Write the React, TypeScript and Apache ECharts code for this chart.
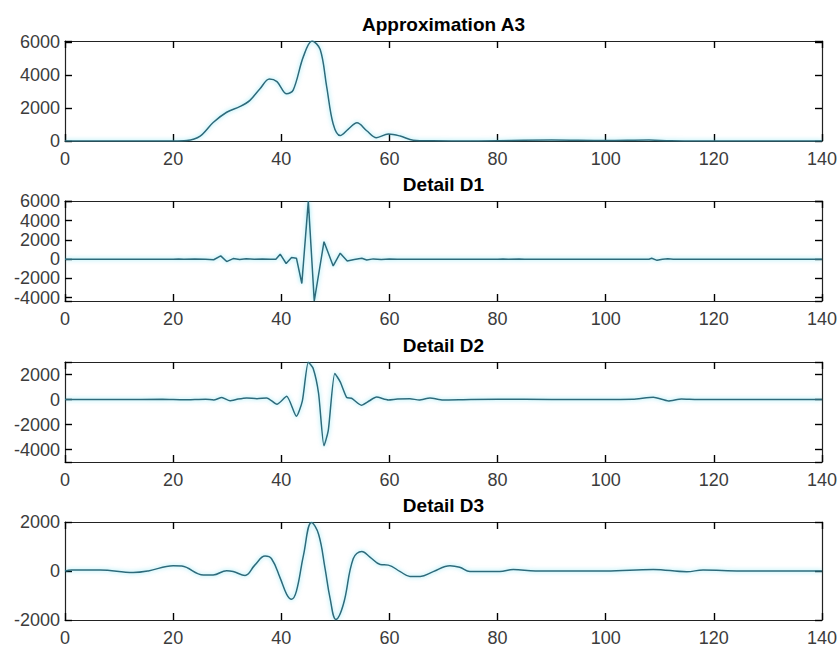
import React, { useEffect, useRef } from 'react';
import * as echarts from 'echarts';

// panel titles and y limits (tight, like the MATLAB wavelet plots)
const titles = ['Approximation A3', 'Detail D1', 'Detail D2', 'Detail D3'];
const yMins = [0, -4350, -5000, -2000];
const yMaxs = [6050, 6050, 3000, 2000];
const xMin = 0;
const xMax = 140;
const xStep = 20;
const yStep = 2000;

// [sample, value]
const a3Data = [
  [0, 0], [10, 0], [20, 0], [22.5, 30], [25, 300], [27.4, 1120], [29.9, 1740], [32.4, 2090],
  [34.2, 2460], [36.1, 3180], [37.8, 3750], [39.2, 3590], [41, 2860], [42.2, 3080], [44.1, 5120],
  [45.7, 6050], [47.2, 5530], [48.4, 3280], [49.6, 1030], [50.9, 330], [52.4, 720], [54, 1100],
  [55.8, 620], [57.6, 200], [59.8, 420], [62, 300], [64.4, 50], [68, 10], [75, 0], [90, 60],
  [100, 30], [108, 60], [112, 10], [118, 0], [125, 0], [140, 0],
];

const d1Data = [
  [0, 0], [20, 0], [21, 20], [22, -10], [24, 20], [26, 0], [27.5, -60], [28.8, 340], [29.9, -250],
  [31.1, 60], [32.3, -30], [33.5, 40], [35, -20], [36.5, 20], [38, 0], [39, 0], [39.8, 520],
  [40.9, -450], [41.9, 170], [42.8, 100], [43.8, -2530], [45, 6040], [46.1, -4350], [47.9, 1820],
  [49.6, -700], [50.9, 620], [52.2, -180], [53.5, -40], [54.9, 100], [55.8, -80], [57, 30],
  [58.5, -30], [60, 20], [61.5, -20], [63, 0], [80, 0], [81, 15], [82, -15], [84, 20], [85, 0],
  [108, 0], [108.5, 100], [109.5, -120], [110.5, 0], [111.5, 40], [112.5, 0], [140, 0],
];

const d2Data = [
  [0, 0], [10, 0], [18, 20], [22, -20], [26, 30], [27.5, -40], [29, 160], [30.5, -100], [32, 40],
  [33.6, 130], [35.5, 60], [37.3, 130], [39.2, -380], [41, 260], [42.8, -1340], [43.9, -110],
  [45, 2980], [45.9, 2480], [46.9, 480], [47.9, -3700], [48.7, -2450], [49.9, 2080], [50.9, 1410],
  [52.1, 160], [53, 100], [54.8, -460], [56.3, -100], [57.6, 200], [59.8, -30], [61.5, 40],
  [63.8, 60], [65.5, -40], [67.5, 130], [69.9, -40], [75, 0], [85, 20], [95, 0], [105, 20],
  [108.8, 180], [111.6, -110], [114, 40], [117, 0], [140, 0],
];

const d3Data = [
  [0, 0], [1.2, 40], [6.5, 40], [12.6, -65], [15.4, 0], [20, 215], [21.6, 200], [25.6, -160],
  [27.4, -160], [29.9, 15], [31.1, -20], [33.3, -180], [35.1, 240], [37, 610], [38.2, 500],
  [39.8, -290], [41, -950], [41.9, -1150], [42.8, -820], [44.1, 640], [45.6, 1980], [46.9, 1500],
  [48.1, 100], [49, -1085], [50.1, -1980], [51.5, -1350], [53.3, 500], [54.9, 800], [56.4, 570],
  [58.3, 265], [59.8, 240], [62, -25], [63.8, -220], [65.7, -220], [68.1, -25], [71.2, 215],
  [73, 150], [74.9, -25], [80.4, -25], [82.9, 65], [87, 0], [100, 0], [108.8, 65], [115, -30],
  [118, 40], [125, 0], [140, 0],
];

const seriesData = [a3Data, d1Data, d2Data, d3Data];
const smoothing = [0.35, 0, 0.2, 0.4];

const FONT = '"Liberation Sans", Arial, Helvetica, sans-serif';
const PLOT_LEFT = 65;
const PLOT_RIGHT = 18;
const PLOT_TOPS = [41, 201, 362, 522];
const PLOT_HEIGHT = 100;
const TICK_LEN = 7;

const App: React.FC = () => {
  const chartRef = useRef<HTMLDivElement | null>(null);

  useEffect(() => {
    const chart = echarts.init(chartRef.current!, undefined, { renderer: 'svg' });

    const grids = PLOT_TOPS.map((top) => ({ left: PLOT_LEFT, right: PLOT_RIGHT, top, height: PLOT_HEIGHT }));

    const xAxisFor = (i: number, position: 'bottom' | 'top') => ({
      type: 'value',
      gridIndex: i,
      min: xMin,
      max: xMax,
      interval: xStep,
      position,
      axisLine: { show: true, onZero: false, lineStyle: { color: '#222', width: 1.2 } },
      axisTick: { show: true, inside: true, length: TICK_LEN, lineStyle: { color: '#000', width: 1.4 } },
      splitLine: { show: false },
      axisLabel:
        position === 'bottom'
          ? { show: true, color: '#3c3c3c', fontSize: 18, fontFamily: FONT, margin: 9 }
          : { show: false },
    });

    const yLabelFmt = (v: number) => (Math.abs(v % yStep) < 1e-6 ? String(v) : '');
    const yAxisFor = (i: number, position: 'left' | 'right') => ({
      type: 'value',
      gridIndex: i,
      min: yMins[i],
      max: yMaxs[i],
      minInterval: yStep,
      maxInterval: yStep,
      position,
      axisLine: { show: true, onZero: false, lineStyle: { color: '#222', width: 1.2 } },
      axisTick: { show: true, inside: true, length: TICK_LEN, lineStyle: { color: '#000', width: 1.4 } },
      splitLine: { show: false },
      axisLabel:
        position === 'left'
          ? { show: true, color: '#3c3c3c', fontSize: 18, fontFamily: FONT, margin: 5, formatter: yLabelFmt }
          : { show: false },
    });

    const series = seriesData.map((data, i) => ({
      type: 'line',
      xAxisIndex: i,
      yAxisIndex: i,
      data,
      smooth: smoothing[i],
      symbol: 'none',
      lineStyle: {
        color: '#2f6a7a',
        width: 1.5,
        shadowColor: 'rgba(0, 200, 230, 0.5)',
        shadowBlur: 4,
      },
    }));

    const graphic = titles.map((text, i) => ({
      type: 'text',
      x: PLOT_LEFT + (840 - PLOT_LEFT - PLOT_RIGHT) / 2,
      y: PLOT_TOPS[i] - 17,
      style: {
        text,
        fill: '#000',
        font: `bold 19px ${FONT}`,
        textAlign: 'center',
        textVerticalAlign: 'middle',
      },
    }));

    const option: any = {
      animation: false,
      grid: grids,
      xAxis: [...titles.map((_, i) => xAxisFor(i, 'bottom')), ...titles.map((_, i) => xAxisFor(i, 'top'))],
      yAxis: [...titles.map((_, i) => yAxisFor(i, 'left')), ...titles.map((_, i) => yAxisFor(i, 'right'))],
      series,
      graphic,
    };

    chart.setOption(option);

    return () => {
      chart.dispose();
    };
  }, []);

  return (
    <div
      ref={chartRef}
      style={{ position: 'fixed', left: 0, top: 0, width: '840px', height: '647px', background: '#fff' }}
    />
  );
};

export default App;
